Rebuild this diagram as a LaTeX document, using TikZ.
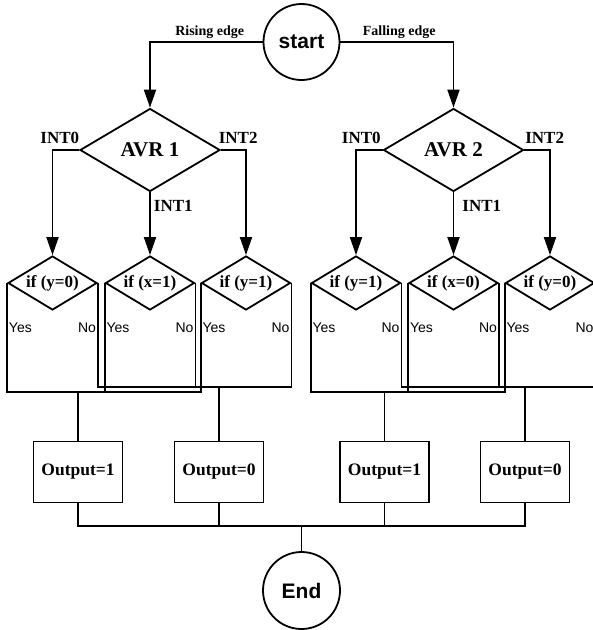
\documentclass[tikz,border=0pt]{standalone}
\usepackage{fontspec}
\setmainfont{Liberation Serif}
\setsansfont{Liberation Sans}
\usetikzlibrary{shapes.geometric,arrows.meta}

\begin{document}
\begin{tikzpicture}[x=1pt,y=-1pt,line width=1.8pt,
        term/.style={circle,draw,minimum size=76pt,inner sep=0pt,font=\sffamily\bfseries\fontsize{21}{21}\selectfont},
        avr/.style={diamond,draw,minimum width=140pt,minimum height=83pt,aspect=1.7,inner sep=0pt,font=\bfseries\fontsize{21}{21}\selectfont},
        test/.style={diamond,draw,minimum width=89pt,minimum height=54pt,aspect=1.65,inner sep=0pt,font=\bfseries\fontsize{17}{17}\selectfont},
        outbox/.style={rectangle,draw,minimum width=89pt,minimum height=61pt,inner sep=0pt,font=\bfseries\fontsize{17.5}{17.5}\selectfont},
        intlab/.style={inner sep=0pt,font=\bfseries\fontsize{17}{17}\selectfont},
        edgelab/.style={above,inner sep=0pt,yshift=3pt,font=\bfseries\fontsize{14}{14}\selectfont},
        yn/.style={inner sep=0pt,font=\sffamily\fontsize{14}{14}\selectfont},
        arr/.style={-{Triangle[length=18pt,width=12pt]}}]
        \useasboundingbox (0,0) rectangle (593,630);
        % start, the two controllers
        \node[term] (start) at (301.5,42) {start};
        \node[avr] (avrA) at (150,150) {AVR 1};
        \node[avr] (avrB) at (453.5,150) {AVR 2};
        \draw[arr] (start.west) -| (avrA.north) node[edgelab, pos=0.235] {Rising edge};
        \draw[arr] (start.east) -| (avrB.north) node[edgelab, pos=0.26] {Falling edge};
        % tests
        \foreach \n/\x/\t in {A1/52.5/{if (y=0)},A2/150/{if (x=1)},A3/246/{if (y=1)},
                              B1/356/{if (y=1)},B2/453.5/{if (x=0)},B3/550/{if (y=0)}} {
            \node[test] (if\n) at (\x,283) {\t};
            \path (if\n.west) ++(1,49) node[yn, anchor=base west] {Yes};
            \path (if\n.east) ++(-1,49) node[yn, anchor=base east] {No};
        }
        \draw[arr] (avrA.west) -| (ifA1.north);
        \draw[arr] (avrA.south) -- (ifA2.north);
        \draw[arr] (avrA.east) -| (ifA3.north);
        \draw[arr] (avrB.west) -| (ifB1.north);
        \draw[arr] (avrB.south) -- (ifB2.north);
        \draw[arr] (avrB.east) -| (ifB3.north);
        \path (avrA.west) ++(1,-7) node[intlab, anchor=base east] {INT0};
        \path (avrA.south) ++(3,19) node[intlab, anchor=base west] {INT1};
        \path (avrA.east) ++(-3,-7) node[intlab, anchor=base west] {INT2};
        \path (avrB.west) ++(-1,-7) node[intlab, anchor=base east] {INT0};
        \path (avrB.south) ++(8,19) node[intlab, anchor=base west] {INT1};
        \path (avrB.east) ++(0,-7) node[intlab, anchor=base west] {INT2};
        % outputs
        \node[outbox] (outA1) at (78,472) {Output=1};
        \node[outbox] (outA0) at (219,472) {Output=0};
        \node[outbox] (outB1) at (384.5,472) {Output=1};
        \node[outbox] (outB0) at (525,472) {Output=0};
        \node[term, minimum size=77pt] (finish) at (301.5,590.5) {End};
        \coordinate (yesbus) at (0,392);
        \coordinate (nobus) at (0,387);
        \coordinate (join) at (301.5,526);
        \foreach \g in {A,B} {
            \draw (if\g1.west) |- (if\g3.west |- yesbus) -- (if\g3.west);
            \draw (if\g2.west) -- (if\g2.west |- yesbus);
            \draw (if\g1.east) |- (if\g3.east |- nobus) -- (if\g3.east);
            \draw (if\g2.east) -- (if\g2.east |- nobus);
            \draw (out\g1.north) -- (out\g1.north |- yesbus);
            \draw (out\g0.north) -- (out\g0.north |- nobus);
        }
        \draw (outA1.south) |- (outB0.south |- join) -- (outB0.south);
        \draw (outA0.south) -- (outA0.south |- join);
        \draw (outB1.south) -- (outB1.south |- join);
        \draw (join) -- (finish.north);
    \end{tikzpicture}
\end{document}
